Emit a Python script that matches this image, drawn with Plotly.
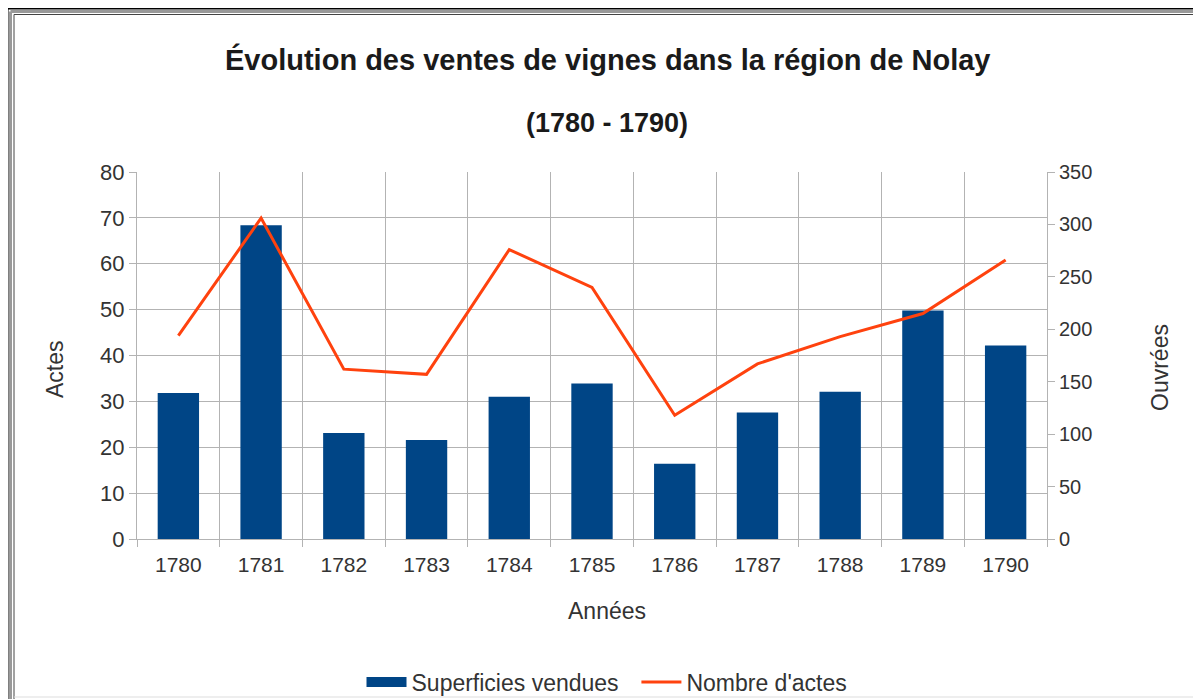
import plotly.graph_objects as go

#
# ventes de vignes, Nolay 1780-1790
#

years = ["1780", "1781", "1782", "1783", "1784", "1785", "1786", "1787", "1788", "1789", "1790"]
superficies = [31.8, 68.4, 23.1, 21.6, 31.0, 33.9, 16.4, 27.6, 32.1, 49.8, 42.2]
actes = [194, 306, 162, 157, 276, 240, 118, 167, 193, 215, 266]

left_ticks = [0, 10, 20, 30, 40, 50, 60, 70, 80]
right_ticks = [0, 50, 100, 150, 200, 250, 300, 350]

# the page body has an 8px margin, so work in screen pixels and shift
OFF = 8
W, H = 1201 - OFF, 699 - OFF
L, R, T, B = 137 - OFF, 1047 - OFF, 172 - OFF, 539 - OFF

def px(x):
    return (x - OFF - L) / (R - L)

def py(y):
    return (B - (y - OFF)) / (B - T)

font = "Liberation Sans, Arial, sans-serif"
txt = "#333333"
grid = "#b3b3b3"
blue = "#004586"
orange = "#ff420e"

fig = go.Figure()
fig.add_trace(go.Bar(x=years, y=superficies, name="Superficies vendues",
                     marker=dict(color=blue, line=dict(width=0)), yaxis="y",
                     showlegend=False, legendgroup="sup"))
# legend entry drawn as a wide block like the original
fig.add_trace(go.Scatter(x=[None], y=[None], name="Superficies vendues\u00a0\u00a0", mode="lines",
                         line=dict(color=blue, width=15), legendgroup="sup"))
fig.add_trace(go.Scatter(x=years, y=actes, name="Nombre d'actes", mode="lines",
                         line=dict(color=orange, width=3), yaxis="y2"))

fig.update_layout(
    width=W, height=H,
    margin=dict(l=L, r=W - R, t=T, b=H - B, autoexpand=False),
    paper_bgcolor="white", plot_bgcolor="white",
    font=dict(family=font, size=20, color=txt),
    bargap=0.5,
    showlegend=True,
    legend=dict(orientation="h", x=px(607), xanchor="center", y=py(682), yanchor="middle",
                font=dict(size=23, color=txt), itemwidth=40, traceorder="normal",
                bgcolor="rgba(0,0,0,0)"),
    xaxis=dict(type="category", tickson="boundaries", showgrid=True, gridcolor=grid,
               gridwidth=1, ticks="outside", ticklen=7, tickcolor=grid,
               showline=True, linecolor=grid, zeroline=False, ticklabelstandoff=7,
               tickfont=dict(size=21, color=txt)),
    yaxis=dict(range=[0, 80], tickvals=left_ticks, showgrid=True, gridcolor=grid,
               ticks="outside", ticklen=7, tickcolor=grid, showline=True, linecolor=grid,
               zeroline=False, tickfont=dict(size=22, color=txt)),
    yaxis2=dict(range=[0, 350], tickvals=right_ticks, overlaying="y", side="right",
                showgrid=False, ticks="outside", ticklen=7, tickcolor=grid,
                showline=True, linecolor=grid, zeroline=False,
                tickfont=dict(size=20, color=txt)),
)

def note(text, x, y, size, color=txt, angle=0):
    fig.add_annotation(text=text, xref="paper", yref="paper", x=px(x), y=py(y),
                       xanchor="center", yanchor="middle", showarrow=False,
                       textangle=angle, font=dict(size=size, color=color))

note("<b>Évolution des ventes de vignes dans la région de Nolay</b>", 607, 60, 29, "#1a1a1a")
note("<b>(1780 - 1790)</b>", 607, 123, 27, "#1a1a1a")
note("Années", 607, 611, 23)
note("Actes", 55, 369, 23, angle=-90)
note("Ouvrées", 1160, 368, 23, angle=-90)

# cadre
def edge(x0, y0, x1, y1, color, width):
    fig.add_shape(type="line", xref="paper", yref="paper", x0=px(x0), y0=py(y0),
                  x1=px(x1), y1=py(y1), line=dict(color=color, width=width))

edge(7, 8, 1230, 8, "black", 3)
edge(7, 8, 7, 730, "black", 3)
edge(10.5, 11.5, 1230, 11.5, "#999999", 3)
edge(10.5, 11.5, 10.5, 730, "#999999", 3)
edge(14, 14.5, 1230, 14.5, "#444444", 1)
edge(14, 14.5, 14, 730, "#444444", 1)
edge(1199.5, 14.5, 1199.5, 697, "#dddddd", 1)
edge(14, 697, 1199.5, 697, "#dddddd", 1)

fig.write_html("out.html")
